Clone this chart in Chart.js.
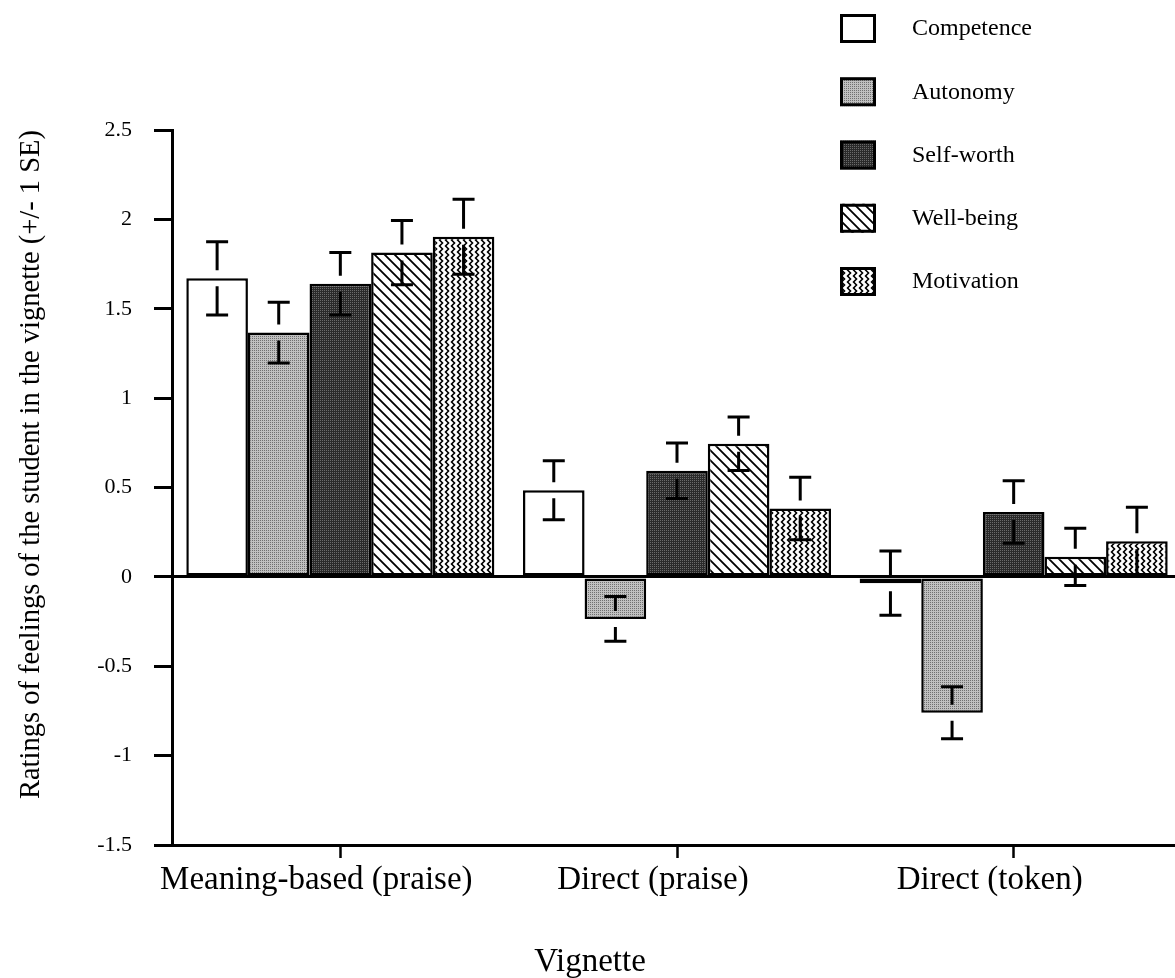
<!DOCTYPE html>
<html>
<head>
<meta charset="utf-8">
<script src="https://cdn.jsdelivr.net/npm/chart.js@4.4.0/dist/chart.umd.min.js"></script>
<style>
  html, body { margin: 0; padding: 0; background: #fff; overflow: hidden; }
  #wrap { width: 1175px; height: 978px; overflow: hidden; }
</style>
</head>
<body>
<div id="wrap"><canvas id="chart" width="1190" height="978"></canvas></div>
<script>
const categories = ['Meaning-based (praise)', 'Direct (praise)', 'Direct (token)'];
const seriesNames = ['Competence', 'Autonomy', 'Self-worth', 'Well-being', 'Motivation'];

const competence = [1.67, 0.485, -0.035];
const competenceSE = [0.205, 0.165, 0.18];
const autonomy = [1.367, -0.235, -0.76];
const autonomySE = [0.17, 0.125, 0.145];
const selfWorth = [1.64, 0.594, 0.363];
const selfWorthSE = [0.175, 0.155, 0.175];
const wellBeing = [1.814, 0.745, 0.112];
const wellBeingSE = [0.18, 0.15, 0.16];
const motivation = [1.903, 0.382, 0.2];
const motivationSE = [0.21, 0.175, 0.19];

const yTicks = [2.5, 2, 1.5, 1, 0.5, 0, -0.5, -1, -1.5];
const yTitle = 'Ratings of feelings of the student in the vignette (+/- 1 SE)';
const xTitle = 'Vignette';

const SERIF = '"Liberation Serif", "Times New Roman", serif';

// small tiles used as bar fills
function makeTile(w, h, draw) {
    const c = document.createElement('canvas');
    c.width = w;
    c.height = h;
    const g = c.getContext('2d');
    draw(g, w, h);
    return document.getElementById('chart').getContext('2d').createPattern(c, 'repeat');
}

function stipple(base, dot) {
    return makeTile(4, 4, (g) => {
        g.fillStyle = base;
        g.fillRect(0, 0, 4, 4);
        g.fillStyle = dot;
        [[0, 0], [2, 2], [2, 0], [0, 2]].forEach(([x, y]) => g.fillRect(x, y, 1, 1));
    });
}

const hatch = makeTile(10, 10, (g) => {
    g.fillStyle = '#fff';
    g.fillRect(0, 0, 10, 10);
    g.strokeStyle = '#000';
    g.lineWidth = 1.8;
    g.beginPath();
    g.moveTo(-1, -1); g.lineTo(11, 11);
    g.moveTo(-1, 9); g.lineTo(1, 11);
    g.moveTo(9, -1); g.lineTo(11, 1);
    g.stroke();
});

const zigzag = makeTile(6, 6, (g) => {
    g.fillStyle = '#fff';
    g.fillRect(0, 0, 6, 6);
    g.strokeStyle = '#000';
    g.lineWidth = 1.6;
    g.beginPath();
    g.moveTo(1, -0.5); g.lineTo(4.5, 3); g.lineTo(1, 6.5);
    g.stroke();
});

const fills = ['#ffffff', stipple('#c0c0c0', '#707070'), stipple('#2a2a2a', '#6a6a6a'), hatch, zigzag];
const values = [competence, autonomy, selfWorth, wellBeing, motivation];
const errors = [competenceSE, autonomySE, selfWorthSE, wellBeingSE, motivationSE];

const datasets = seriesNames.map((name, i) => ({
    label: name,
    data: values[i],
    errors: errors[i],
    backgroundColor: fills[i],
    borderColor: '#000',
    borderWidth: 2.5,
    borderSkipped: false
}));

// T on top, upside-down T below, with a little gap around the bar end
const errorBars = {
    id: 'errorBars',
    afterDatasetsDraw(chart) {
        const ctx = chart.ctx;
        const y = chart.scales.y;
        ctx.save();
        ctx.strokeStyle = '#000';
        ctx.lineWidth = 3;
        chart.data.datasets.forEach((ds, d) => {
            chart.getDatasetMeta(d).data.forEach((bar, i) => {
                const v = ds.data[i];
                const se = ds.errors[i];
                const top = y.getPixelForValue(v + se);
                const bot = y.getPixelForValue(v - se);
                const mid = y.getPixelForValue(v);
                const x = bar.x;
                ctx.beginPath();
                ctx.moveTo(x - 11, top); ctx.lineTo(x + 11, top);
                ctx.moveTo(x, top); ctx.lineTo(x, mid - 8);
                ctx.moveTo(x, mid + 8); ctx.lineTo(x, bot);
                ctx.moveTo(x - 11, bot); ctx.lineTo(x + 11, bot);
                ctx.stroke();
            });
        });
        ctx.restore();
    }
};

const boxLegend = {
    id: 'boxLegend',
    afterDraw(chart) {
        const ctx = chart.ctx;
        ctx.save();
        chart.data.datasets.forEach((ds, i) => {
            const bx = 840, by = 14 + i * 63.25;
            ctx.fillStyle = ds.backgroundColor;
            ctx.fillRect(bx, by, 36, 29);
            ctx.strokeStyle = '#000';
            ctx.lineWidth = 3;
            ctx.strokeRect(bx + 1.5, by + 1.5, 33, 26);
            ctx.fillStyle = '#000';
            ctx.font = '24px ' + SERIF;
            ctx.textAlign = 'left';
            ctx.textBaseline = 'middle';
            ctx.fillText(ds.label, 912, by + 15);
        });
        // x axis title sits left of centre in the original
        ctx.font = '33px ' + SERIF;
        ctx.textAlign = 'center';
        ctx.textBaseline = 'alphabetic';
        ctx.fillText(xTitle, 590, 971);
        ctx.restore();
    }
};

new Chart(document.getElementById('chart'), {
    type: 'bar',
    data: { labels: categories, datasets: datasets },
    options: {
        responsive: false,
        animation: false,
        layout: { padding: { left: 0, right: 8, top: 130, bottom: 73 } },
        datasets: { bar: { categoryPercentage: 0.915, barPercentage: 1 } },
        plugins: {
            legend: { display: false },
            tooltip: { enabled: false }
        },
        scales: {
            x: {
                afterFit: (s) => { s.height = 60; },
                grid: { drawOnChartArea: false, offset: false, tickLength: 13, tickColor: '#000', tickWidth: 2.5 },
                border: { color: '#000', width: 3 },
                ticks: { color: '#000', font: { family: SERIF, size: 33 }, padding: 3, labelOffset: -24, maxRotation: 0 }
            },
            y: {
                min: -1.5,
                max: 2.5,
                afterFit: (s) => { s.width = 172; },
                afterBuildTicks: (s) => { s.ticks = yTicks.map(v => ({ value: v })); },
                grid: {
                    color: (c) => (c.tick && c.tick.value === 0 ? '#000' : 'rgba(0,0,0,0)'),
                    lineWidth: 3,
                    tickLength: 18,
                    tickColor: '#000',
                    tickWidth: 3
                },
                border: { color: '#000', width: 3 },
                ticks: { color: '#000', font: { family: SERIF, size: 22 }, padding: 22, callback: (v) => String(v) },
                title: {
                    display: true,
                    text: yTitle,
                    align: 'end',
                    color: '#000',
                    font: { family: SERIF, size: 28.5 },
                    padding: { top: 14, bottom: 0 }
                }
            }
        }
    },
    plugins: [errorBars, boxLegend]
});
</script>
</body>
</html>
